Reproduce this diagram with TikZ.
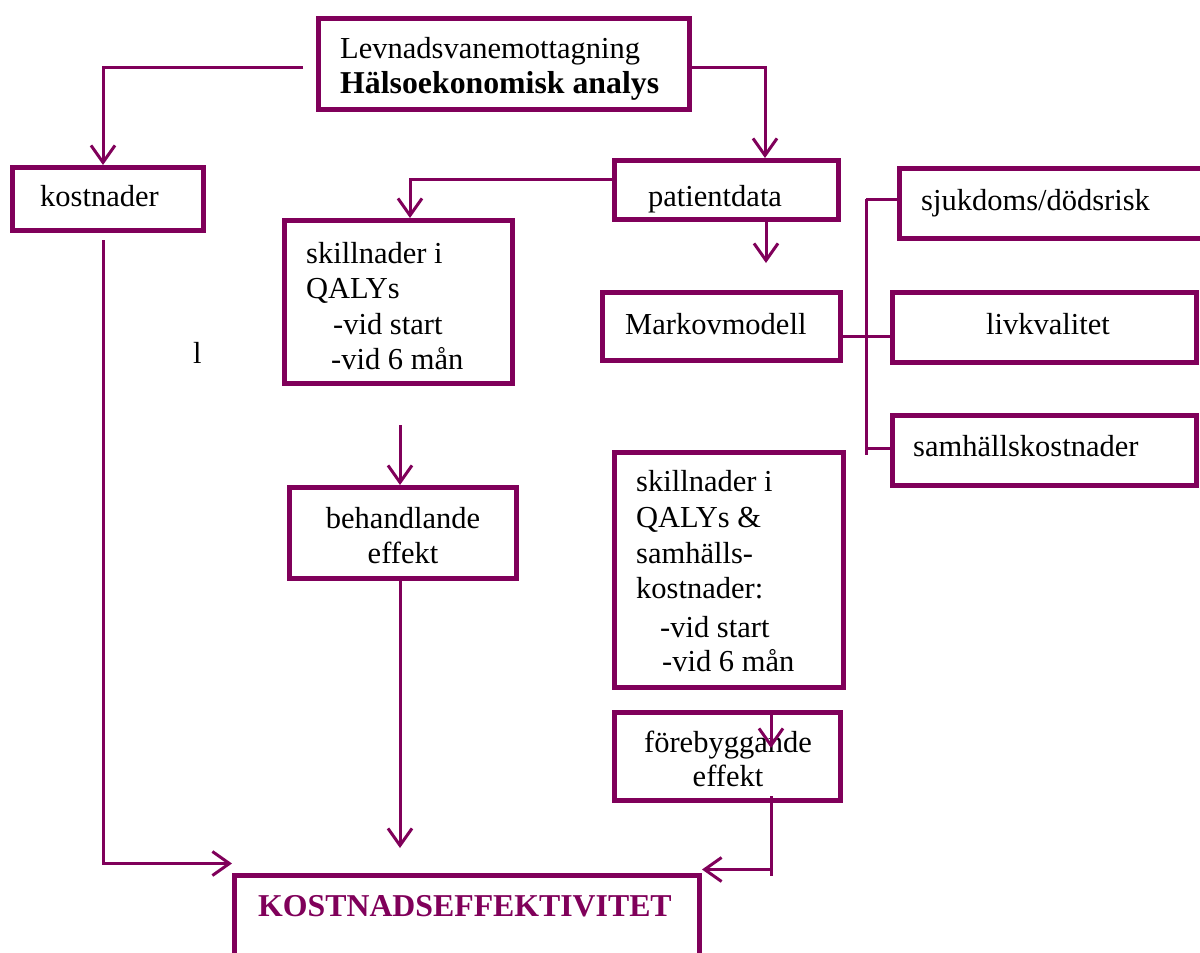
\documentclass[tikz,border=0pt]{standalone}
\usepackage{fontspec}
\setmainfont{Liberation Serif}
\usetikzlibrary{arrows.meta}
\definecolor{pur}{RGB}{128,0,90}
\newcommand\fs{\fontsize{30.5}{35}\selectfont}
\newcommand\fb{\fontsize{31.8}{35}\selectfont\bfseries}
\tikzset{
  box/.style={draw=pur, line width=5pt, inner sep=0pt, rectangle},
  conn/.style={draw=pur, line width=3pt},
  arr/.style={conn, -{Straight Barb[length=17pt,width=24pt]}},
  txt/.style={inner sep=0pt, anchor=base west, font=\fs},
  ctxt/.style={inner sep=0pt, anchor=base, font=\fs},
}
\begin{document}
\begin{tikzpicture}[x=1pt,y=-1pt]
\useasboundingbox (0,0) rectangle (1200,953);
% boxes
\node[box,minimum width=371pt,minimum height=91pt] (top) at (504,64) {};
\node[box,minimum width=191pt,minimum height=63pt] (kostn) at (108,199) {};
\node[box,minimum width=224pt,minimum height=59pt] (pdata) at (726.5,190) {};
\node[box,minimum width=228pt,minimum height=163pt] (skL) at (398.5,302) {};
\node[box,minimum width=238pt,minimum height=68pt] (markov) at (721.5,326.5) {};
\node[box,minimum width=320pt,minimum height=70pt] (sjuk) at (1059.5,203.5) {};
\node[box,minimum width=304pt,minimum height=70pt] (livk) at (1044.5,327.5) {};
\node[box,minimum width=304pt,minimum height=70pt] (samh) at (1044.5,450.5) {};
\node[box,minimum width=229pt,minimum height=235pt] (skR) at (729,570) {};
\node[box,minimum width=227pt,minimum height=91pt] (beh) at (403,533) {};
\node[box,minimum width=226pt,minimum height=88pt] (fore) at (727.5,756.5) {};
\node[box,minimum width=465pt,minimum height=125pt] (kost) at (467,937.5) {};
% texts
\node[txt] (t1) at (340,58) {Levnadsvanemottagning};
\node[txt,font=\fb] (t2) at (340,93) {Hälsoekonomisk analys};
\node[txt] (t3) at (40,206) {kostnader};
\node[txt] (t4) at (648,206) {patientdata};
\node[txt] (t5) at (921,210) {sjukdoms/dödsrisk};
\node[txt] (t6) at (625,334) {Markovmodell};
\node[txt] (t7) at (986,334) {livkvalitet};
\node[txt] (t8) at (913,456) {samhällskostnader};
\node[txt] (t9) at (306,263) {skillnader i};
\node[txt] (t10) at (306,298) {QALYs};
\node[txt] (t11) at (333,334) {-vid start};
\node[txt] (t12) at (331,369) {-vid 6 mån};
\node[txt] (t13) at (193,363) {l};
\node[txt] (t14) at (636,491) {skillnader i};
\node[txt] (t15) at (636,527) {QALYs \&};
\node[txt] (t16) at (636,563) {samhälls-};
\node[txt] (t17) at (636,598) {kostnader:};
\node[txt] (t18) at (660,637) {-vid start};
\node[txt] (t19) at (662,671) {-vid 6 mån};
\node[ctxt] (t20) at (403,528) {behandlande};
\node[ctxt] (t21) at (403,563) {effekt};
\node[ctxt] (t22) at (728,752) {förebyggande};
\node[ctxt] (t23) at (728,786) {effekt};
\node[txt,font=\fb,text=pur] (t24) at (258,916) {KOSTNADSEFFEKTIVITET};
% connectors
\coordinate (c1) at (303,67);
\draw[arr] (c1) -| ([xshift=-5pt]kostn.north);
\draw[arr] ([yshift=-3pt]top.east) -| ([xshift=38.5pt]pdata.north);
\draw[arr] ([yshift=11pt]pdata.west) -| ([xshift=11.5pt]skL.north);
\coordinate (pd2) at (766,263);
\draw[arr] ([xshift=39.5pt]pdata.south) -- (pd2);
\coordinate (brT) at (866,199);
\coordinate (brB) at (866,455);
\coordinate (brS) at (866,448);
\draw[conn] (brT) -- (brB);
\draw[conn] (brT) -- (sjuk.west |- brT);
\draw[conn] ([yshift=-9.5pt]markov.east) -- ([yshift=-8.5pt]livk.west);
\draw[conn] (brS) -- (samh.west |- brS);
\coordinate (s2) at (400,425);
\draw[arr] (s2) -- ([xshift=-3pt]beh.north);
\coordinate (b2) at (400,848);
\draw[arr] ([xshift=-3pt]beh.south) -- (b2);
\coordinate (k1) at (103,240);
\draw[arr] (k1) |- ([yshift=9pt]kost.north west);
\coordinate (f1) at (771,748);
\draw[arr] ([xshift=43.5pt]fore.north) -- (f1);
\coordinate (f3) at (771,876);
\coordinate (fc) at (771,869.5);
\draw[conn] ([xshift=43.5pt,yshift=7pt]fore.south) -- (f3);
\draw[arr] (fc) -- ([yshift=3pt]kost.north east);
\end{tikzpicture}
\end{document}
